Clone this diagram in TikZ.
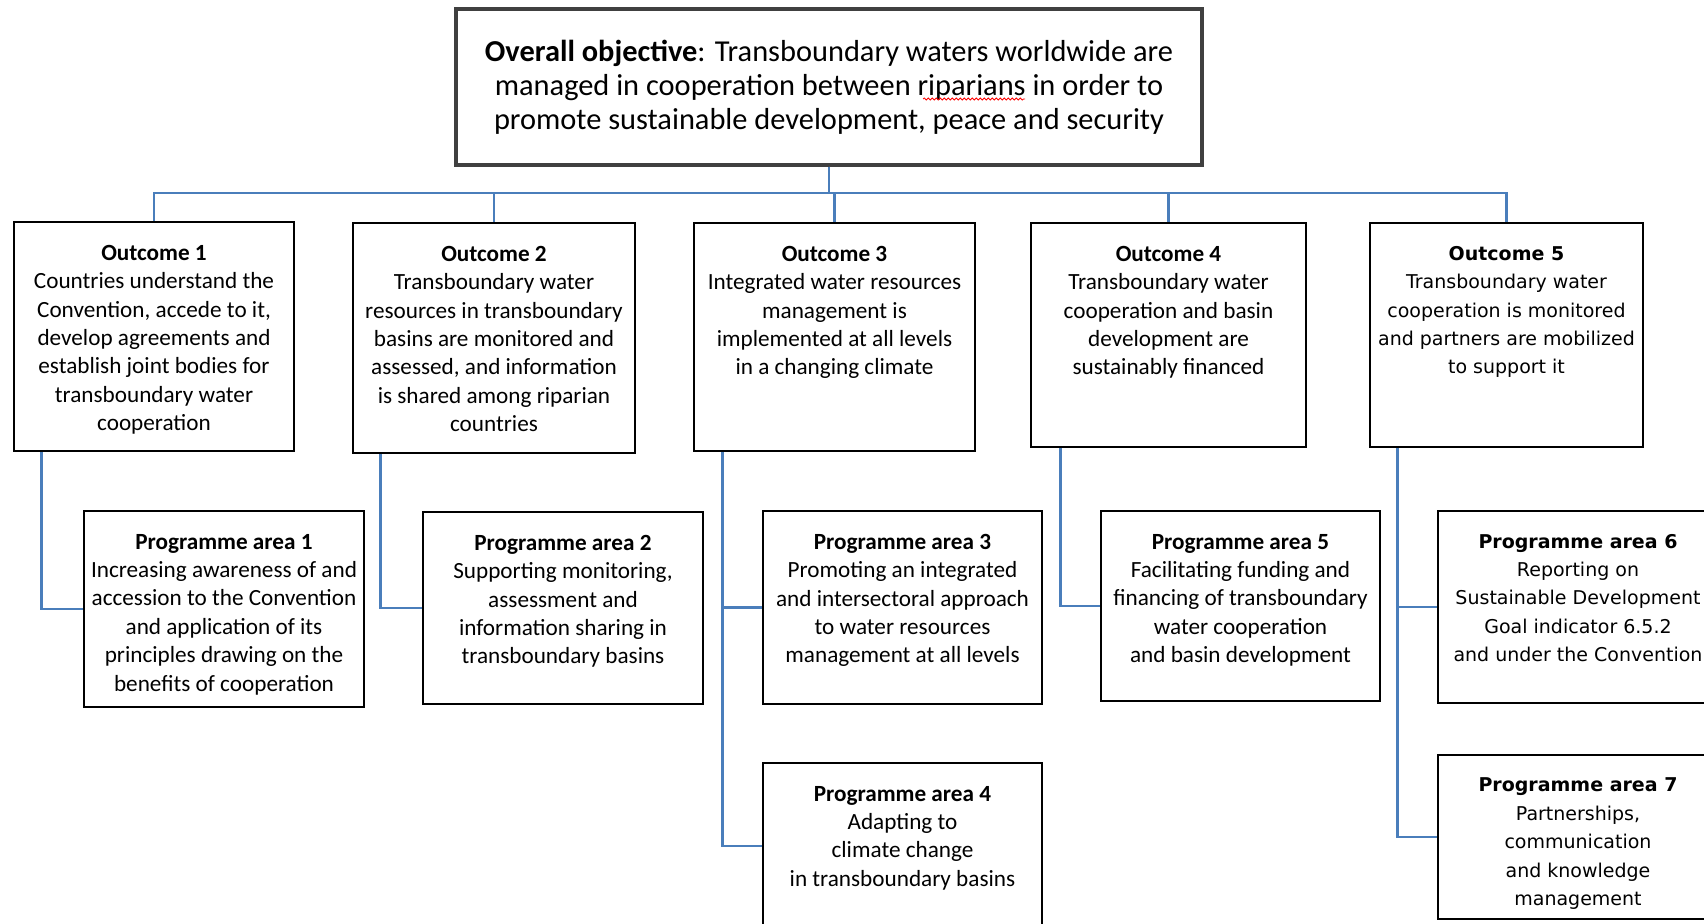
\documentclass[tikz,border=0pt]{standalone}
\usepackage{fontspec}
\setmainfont{Carlito}
\newfontfamily\verdfont{DejaVu Sans}
\usetikzlibrary{positioning,decorations.pathmorphing}
\definecolor{linkblue}{RGB}{74,126,187}
\definecolor{framegrey}{RGB}{64,64,64}

\begin{document}
\begin{tikzpicture}[x=0.5pt,y=-0.5pt]

\tikzset{
    box/.style 2 args={draw=black,line width=1.3pt,inner sep=0pt,
        minimum width=#1*0.5pt,minimum height=#2*0.5pt},
    txt/.style={align=center,inner sep=0pt,font=\fontsize{11.6}{14.2}\selectfont},
    vtxt/.style={align=center,inner sep=0pt,font=\verdfont\fontsize{9.5}{14.2}\selectfont},
    conn/.style={draw=linkblue,line width=1.3pt}}

\useasboundingbox (0,0) rectangle (1704,923);

\node[box={746}{156}, draw=framegrey, line width=1.6pt, align=center,
      font=\fontsize{15.2}{16.9}\selectfont] (goal) at (829,87)
    {\textbf{Overall objective}: Transboundary waters worldwide are\\
     managed in cooperation between riparians in order to\\
     promote sustainable development, peace and security};
\draw[red, line width=0.4pt, decorate, decoration={snake,amplitude=0.5pt,segment length=2pt}]
    ([xshift=47pt,yshift=-6pt]goal.center) -- ++(102,0);

\node[box={280}{229}] (o1) at (154,336.5) {};
\node[box={282}{230}] (o2) at (494,338) {};
\node[box={281}{228}] (o3) at (834.5,337) {};
\node[box={275}{224}] (o4) at (1168.5,335) {};
\node[box={273}{224}] (o5) at (1506.5,335) {};

\node[txt, below=12pt of o1.north] (o1t) {\textbf{Outcome 1}\\Countries understand the\\
    Convention, accede to it,\\develop agreements and\\establish joint bodies for\\
    transboundary water\\cooperation};
\node[txt, below=12pt of o2.north] (o2t) {\textbf{Outcome 2}\\Transboundary water\\
    resources in transboundary\\basins are monitored and\\assessed, and information\\
    is shared among riparian\\countries};
\node[txt, below=12pt of o3.north] (o3t) {\textbf{Outcome 3}\\Integrated water resources\\
    management is\\implemented at all levels\\in a changing climate};
\node[txt, below=12pt of o4.north] (o4t) {\textbf{Outcome 4}\\Transboundary water\\
    cooperation and basin\\development are\\sustainably financed};
\node[vtxt, below=12pt of o5.north] (o5t) {\textbf{Outcome 5}\\Transboundary water\\
    cooperation is monitored\\and partners are mobilized\\to support it};

\node[box={280}{196}] (pa1) at (224,609) {};
\node[box={280}{192}] (pa2) at (563,608) {};
\node[box={279}{193}] (pa3) at (902.5,607.5) {};
\node[box={279}{166}] (pa4) at (902.5,846) {};
\node[box={279}{190}] (pa5) at (1240.5,606) {};
\node[box={280}{192}] (pa6) at (1578,607) {};
\node[box={280}{164}] (pa7) at (1578,837) {};

\node[txt, below=12pt of pa1.north] (pa1t) {\textbf{Programme area 1}\\
    Increasing awareness of and\\accession to the Convention\\and application of its\\
    principles drawing on the\\benefits of cooperation};
\node[txt, below=12pt of pa2.north] (pa2t) {\textbf{Programme area 2}\\
    Supporting monitoring,\\assessment and\\information sharing in\\transboundary basins};
\node[txt, below=12pt of pa3.north] (pa3t) {\textbf{Programme area 3}\\
    Promoting an integrated\\and intersectoral approach\\to water resources\\
    management at all levels};
\node[txt, below=12pt of pa4.north] (pa4t) {\textbf{Programme area 4}\\
    Adapting to\\climate change\\in transboundary basins};
\node[txt, below=12pt of pa5.north] (pa5t) {\textbf{Programme area 5}\\
    Facilitating funding and\\financing of transboundary\\water cooperation\\
    and basin development};
\node[vtxt, below=12pt of pa6.north] (pa6t) {\textbf{Programme area 6}\\
    Reporting on\\Sustainable Development\\Goal indicator 6.5.2\\and under the Convention};
\node[vtxt, below=12pt of pa7.north] (pa7t) {\textbf{Programme area 7}\\
    Partnerships,\\communication\\and knowledge\\management};

\coordinate (bus) at (829,193);
\foreach \i in {1,...,5}
    \draw[conn] (goal.south) -- (bus) -| (o\i.north);

\draw[conn] ([xshift=14.5pt]o1.south west) |- (pa1.west);
\draw[conn] ([xshift=14.5pt]o2.south west) |- (pa2.west);
\draw[conn] ([xshift=15pt]o3.south west) |- (pa3.west);
\draw[conn] ([xshift=15pt]o3.south west) |- (pa4.west);
\draw[conn] ([xshift=15.5pt]o4.south west) |- (pa5.west);
\draw[conn] ([xshift=14.5pt]o5.south west) |- (pa6.west);
\draw[conn] ([xshift=14.5pt]o5.south west) |- (pa7.west);

\end{tikzpicture}
\end{document}
